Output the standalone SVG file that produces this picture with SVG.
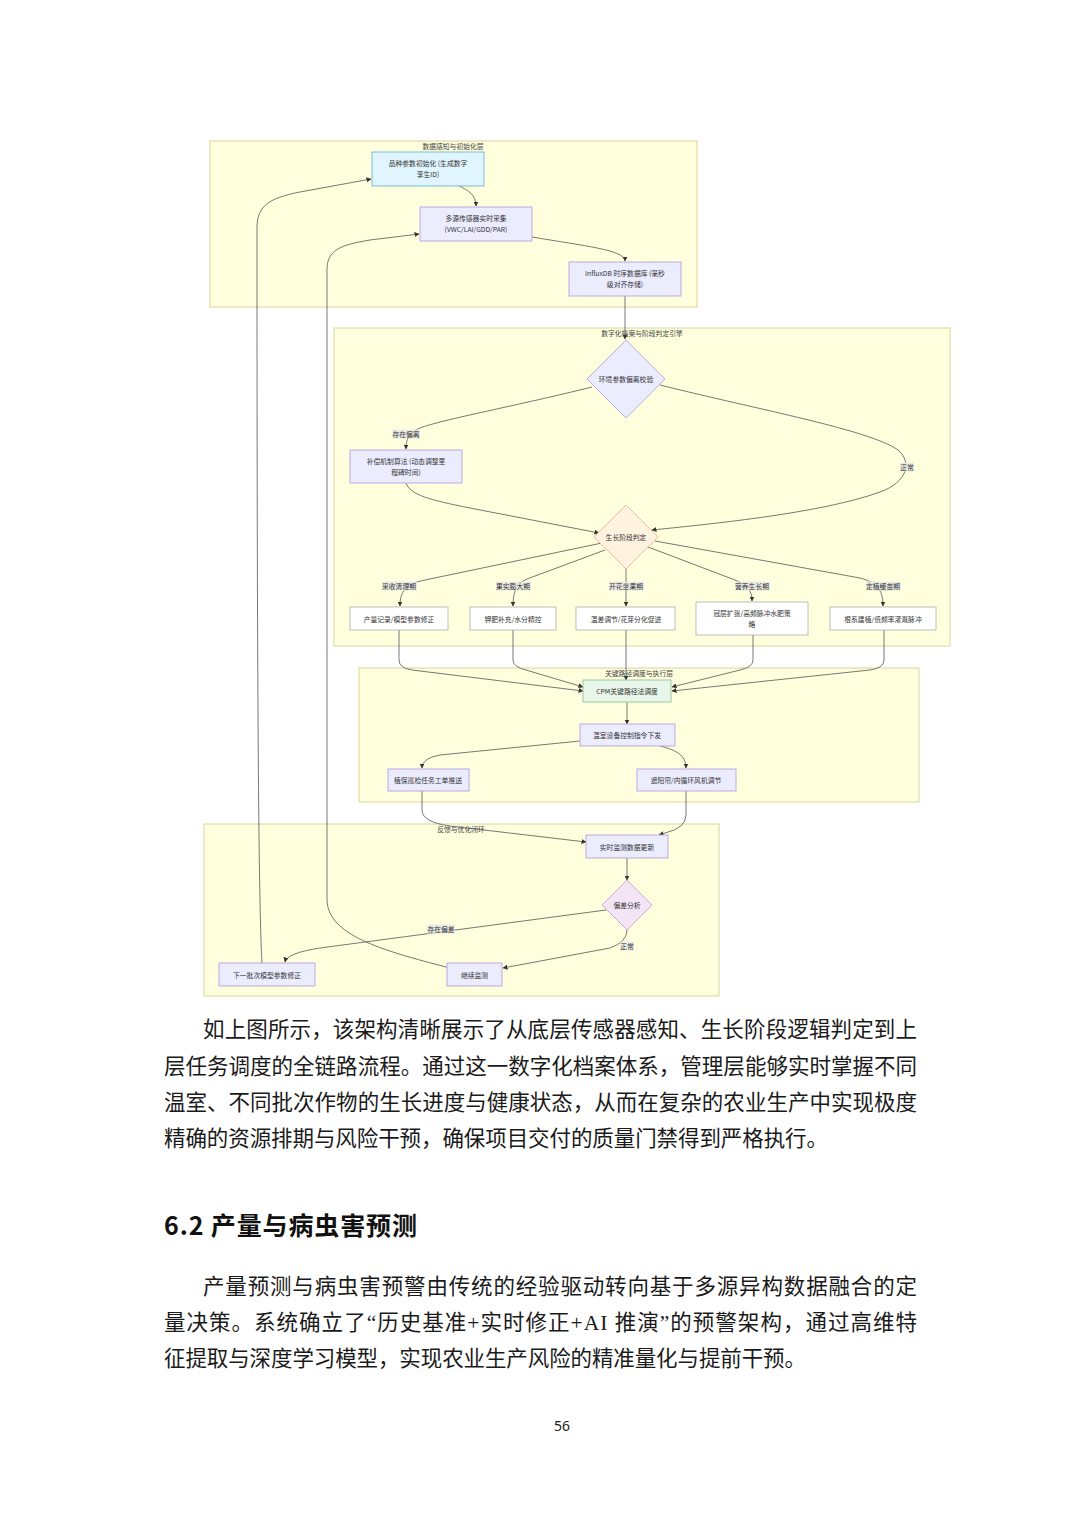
<svg xmlns="http://www.w3.org/2000/svg" width="1080" height="1528" viewBox="0 0 1080 1528">
<style>
.bg{fill:#ffffff}
.cl{fill:#ffffde;stroke:#d6d69a;stroke-width:1}
.cll{font-family:"Noto Sans CJK SC","Noto Sans",sans-serif;font-size:6.8px;fill:#444;text-anchor:middle;dominant-baseline:central}
.nd{fill:#ececff;stroke:#b3a3e3;stroke-width:0.9}
.wh{fill:#ffffff;stroke:#b5b5b5;stroke-width:0.9}
.bl{fill:#e1f5fe;stroke:#6cb6dc;stroke-width:0.9}
.gr{fill:#e8f5e9;stroke:#8cc79a;stroke-width:0.9}
.or{fill:#fff3e0;stroke:#f5b294;stroke-width:0.9}
.pu{fill:#f3e5f5;stroke:#cfa0d8;stroke-width:0.9}
.t{font-family:"Noto Sans CJK SC","Noto Sans",sans-serif;font-size:6.8px;fill:#333;text-anchor:middle;dominant-baseline:central}
.e{fill:none;stroke:#555;stroke-width:0.8;marker-end:url(#ah)}
.lb{fill:#e8e8e8;opacity:0.85}
.body{font-family:"Liberation Serif","Noto Sans CJK SC",serif;font-size:21.5px;fill:#1a1a1a}
.h{font-family:"Noto Sans CJK SC","Noto Sans",sans-serif;font-size:25px;font-weight:bold;fill:#111}
.pg{font-family:"Noto Sans","Liberation Sans",sans-serif;font-size:14px;fill:#222;text-anchor:middle}
</style>
<defs>
<marker id="ah" markerUnits="userSpaceOnUse" markerWidth="5" markerHeight="5" refX="4.5" refY="2.5" orient="auto">
<path d="M0,0 L5,2.5 L0,5 z" fill="#333"/>
</marker>
</defs>
<rect class="bg" x="0" y="0" width="1080" height="1528"/>

<g id="clusters">
<g id="layer1"><rect class="cl" x="210" y="141" width="487" height="166"/><text class="cll" x="453" y="146">数据感知与初始化层</text></g>
<g id="layer2"><rect class="cl" x="334" y="328" width="616" height="318"/><text class="cll" x="642" y="333">数字化档案与阶段判定引擎</text></g>
<g id="layer3"><rect class="cl" x="359" y="668" width="560" height="134"/><text class="cll" x="639" y="673">关键路径调度与执行层</text></g>
<g id="layer4"><rect class="cl" x="204" y="824" width="515" height="172"/><text class="cll" x="461" y="829">反馈与优化闭环</text></g>
</g>

<g id="connectors">
<path class="e" d="M459,186 C468,190 476,195 476,206"/>
<path class="e" d="M532,237 C585,246 625,250 625,261"/>
<path class="e" d="M625,296 L625,339"/>
<path class="e" d="M592,387 C520,405 440,420 420,428 C408,433 406,440 406,449"/>
<path class="e" d="M660,385 C760,410 870,430 898,450 C912,462 908,482 880,492 C820,514 700,525 652,530"/>
<path class="e" d="M406,483 C410,495 430,500 470,508 L599,533"/>
<path class="e" d="M602,543 L425,580 C405,584 400,592 400,606"/>
<path class="e" d="M605,550 L527,579 C515,584 513,594 513,606"/>
<path class="e" d="M626,569 L626,606"/>
<path class="e" d="M648,547 L735,580 C749,586 752,592 752,601"/>
<path class="e" d="M655,541 L860,578 C879,583 883,592 883,606"/>
<path class="e" d="M399,630 L399,660 Q399,668 412,670 L583,691"/>
<path class="e" d="M513,630 L513,660 Q513,667 526,670 L583,687"/>
<path class="e" d="M626,630 L626,680"/>
<path class="e" d="M753,635 L753,660 Q753,667 740,670 L672,687"/>
<path class="e" d="M884,630 L884,660 Q884,668 870,670 L672,691"/>
<path class="e" d="M627,702 L627,724"/>
<path class="e" d="M580,741 L440,755 Q422,758 422,768"/>
<path class="e" d="M660,746 C676,750 686,755 686,768"/>
<path class="e" d="M422,791 L422,810 Q422,822 450,826 L586,842"/>
<path class="e" d="M686,791 L686,815 Q686,828 665,833 L659,835"/>
<path class="e" d="M627,858 L627,880"/>
<path class="e" d="M606,910 L320,948 Q287,953 285,962"/>
<path class="e" d="M627,930 Q627,942 610,948 L503,968"/>
<path class="e" d="M262,963 C258,900 257,600 257,228 C257,205 270,198 300,192 L371,179"/>
<path class="e" d="M450,968 C380,950 328,935 327,900 L327,270 C327,250 340,245 370,240 L419,234"/>
<g id="edge-labels">
<rect class="lb" x="392" y="429.5" width="28" height="9"/><text class="t" x="406" y="434">存在偏离</text>
<rect class="lb" x="900" y="462.5" width="14" height="9"/><text class="t" x="907" y="467">正常</text>
<rect class="lb" x="382" y="581.5" width="35" height="9"/><text class="t" x="399" y="586">采收清理期</text>
<rect class="lb" x="496" y="581.5" width="35" height="9"/><text class="t" x="513" y="586">果实膨大期</text>
<rect class="lb" x="609" y="581.5" width="35" height="9"/><text class="t" x="626" y="586">开花坐果期</text>
<rect class="lb" x="735" y="581.5" width="35" height="9"/><text class="t" x="752" y="586">营养生长期</text>
<rect class="lb" x="866" y="581.5" width="35" height="9"/><text class="t" x="883" y="586">定植缓苗期</text>
<rect class="lb" x="427" y="924.5" width="28" height="9"/><text class="t" x="441" y="929">存在偏差</text>
<rect class="lb" x="620" y="941.5" width="14" height="9"/><text class="t" x="627" y="946">正常</text>
</g>
</g>

<g id="nodeA"><rect class="bl" x="372" y="152" width="112" height="34"/><text class="t" x="428" y="163">品种参数初始化 (生成数字</text><text class="t" x="428" y="174">孪生ID)</text></g>
<g id="nodeB"><rect class="nd" x="420" y="207" width="112" height="34"/><text class="t" x="476" y="218">多源传感器实时采集</text><text class="t" x="476" y="229">(VWC/LAI/GDD/PAR)</text></g>
<g id="nodeC"><rect class="nd" x="569" y="262" width="112" height="34"/><text class="t" x="625" y="273">InfluxDB 时序数据库 (毫秒</text><text class="t" x="625" y="284">级对齐存储)</text></g>
<g id="nodeD1"><polygon class="nd" points="626,340 665,379 626,418 587,379"/><text class="t" x="626" y="379">环境参数偏离校验</text></g>
<g id="nodeComp"><rect class="nd" x="350" y="450" width="112" height="33"/><text class="t" x="406" y="461">补偿机制算法 (动态调整里</text><text class="t" x="406" y="472">程碑时间)</text></g>
<g id="nodeD2"><polygon class="or" points="626,505 658,537 626,569 594,537"/><text class="t" x="626" y="537">生长阶段判定</text></g>
<g id="nodeS1"><rect class="wh" x="350" y="607" width="98" height="23"/><text class="t" x="399" y="618.5">产量记录/模型参数修正</text></g>
<g id="nodeS2"><rect class="wh" x="470" y="607" width="86" height="23"/><text class="t" x="513" y="618.5">钾肥补充/水分精控</text></g>
<g id="nodeS3"><rect class="wh" x="576" y="607" width="99" height="23"/><text class="t" x="626" y="618.5">温差调节/花芽分化促进</text></g>
<g id="nodeS4"><rect class="wh" x="696" y="602" width="112" height="33"/><text class="t" x="752" y="613">冠层扩张/高频脉冲水肥策</text><text class="t" x="752" y="624">略</text></g>
<g id="nodeS5"><rect class="wh" x="830" y="607" width="106" height="23"/><text class="t" x="883" y="618.5">根系建植/低频率灌溉脉冲</text></g>
<g id="nodeCPM"><rect class="gr" x="583" y="680" width="88" height="22"/><text class="t" x="627" y="691">CPM关键路径法调度</text></g>
<g id="nodeE1"><rect class="nd" x="580" y="724" width="95" height="22"/><text class="t" x="627" y="735">温室设备控制指令下发</text></g>
<g id="nodeE2"><rect class="nd" x="388" y="769" width="81" height="22"/><text class="t" x="428" y="780">植保巡检任务工单推送</text></g>
<g id="nodeE3"><rect class="nd" x="637" y="769" width="99" height="22"/><text class="t" x="686" y="780">遮阳帘/内循环风机调节</text></g>
<g id="nodeF1"><rect class="nd" x="586" y="835" width="82" height="23"/><text class="t" x="627" y="846.5">实时监测数据更新</text></g>
<g id="nodeF2"><polygon class="pu" points="627,880 652,905 627,930 602,905"/><text class="t" x="627" y="905">偏差分析</text></g>
<g id="nodeF3"><rect class="nd" x="219" y="963" width="96" height="23"/><text class="t" x="267" y="974.5">下一批次模型参数修正</text></g>
<g id="nodeF4"><rect class="nd" x="447" y="963" width="55" height="23"/><text class="t" x="474.5" y="974.5">继续监测</text></g>

<g id="page-text">
<text class="body" x="203" y="1037" textLength="714" lengthAdjust="spacing">如上图所示，该架构清晰展示了从底层传感器感知、生长阶段逻辑判定到上</text>
<text class="body" x="164" y="1074" textLength="753" lengthAdjust="spacing">层任务调度的全链路流程。通过这一数字化档案体系，管理层能够实时掌握不同</text>
<text class="body" x="164" y="1110" textLength="753" lengthAdjust="spacing">温室、不同批次作物的生长进度与健康状态，从而在复杂的农业生产中实现极度</text>
<text class="body" x="164" y="1146" textLength="664" lengthAdjust="spacing">精确的资源排期与风险干预，确保项目交付的质量门禁得到严格执行。</text>
<text class="h" x="164" y="1235" textLength="253" lengthAdjust="spacing">6.2 产量与病虫害预测</text>
<text class="body" x="203" y="1294" textLength="714" lengthAdjust="spacing">产量预测与病虫害预警由传统的经验驱动转向基于多源异构数据融合的定</text>
<text class="body" x="164" y="1330" textLength="753" lengthAdjust="spacing">量决策。系统确立了“历史基准+实时修正+AI 推演”的预警架构，通过高维特</text>
<text class="body" x="164" y="1366" textLength="642" lengthAdjust="spacing">征提取与深度学习模型，实现农业生产风险的精准量化与提前干预。</text>
<text class="pg" x="562" y="1431">56</text>
</g>
</svg>
